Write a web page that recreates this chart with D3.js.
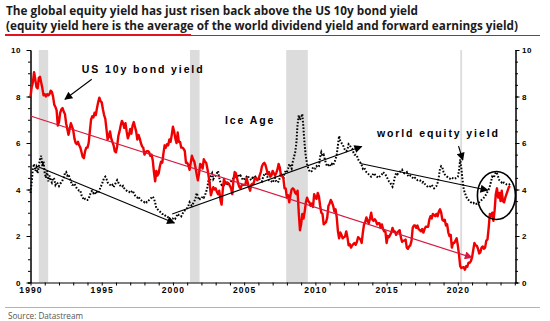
<!DOCTYPE html>
<html lang="en">
<head>
<meta charset="utf-8"/>
<title>Global equity yield vs US 10y bond yield</title>
<script src="https://d3js.org/d3.v7.min.js"></script>
<style>
  body { margin: 0; background: #fff; }
  svg text { font-family: Arial, "Liberation Sans", sans-serif; }
</style>
</head>
<body>
<script>
// monthly series starting Jan 1990
var startYear = 1990;

// US 10y government bond yield, %
var bondYield = [
  8.0, 8.4, 8.6, 9.05, 8.75, 8.4, 8.35, 8.8, 8.85, 8.6, 8.35, 8.05,
  8.1, 8.0, 8.1, 8.05, 8.1, 8.25, 8.2, 8.0, 7.65, 7.55, 7.4, 6.75,
  6.9, 7.3, 7.45, 7.5, 7.35, 7.25, 6.85, 6.6, 6.35, 6.6, 6.85, 6.7,
  6.55, 6.2, 6.0, 5.95, 6.05, 5.9, 5.8, 5.6, 5.4, 5.35, 5.65, 5.8,
  5.8, 6.0, 6.5, 7.0, 7.15, 7.1, 7.3, 7.2, 7.5, 7.75, 7.95, 7.8,
  7.75, 7.45, 7.2, 7.05, 6.6, 6.15, 6.3, 6.5, 6.2, 6.05, 5.9, 5.65,
  5.6, 5.85, 6.3, 6.5, 6.75, 6.95, 6.85, 6.65, 6.85, 6.5, 6.2, 6.35,
  6.6, 6.4, 6.75, 6.9, 6.7, 6.5, 6.15, 6.35, 6.2, 6.0, 5.85, 5.8,
  5.5, 5.6, 5.65, 5.65, 5.6, 5.45, 5.5, 5.25, 4.75, 4.35, 4.8, 4.6,
  4.7, 5.0, 5.2, 5.15, 5.55, 5.9, 5.8, 5.95, 5.9, 6.15, 6.05, 6.35,
  6.7, 6.5, 6.2, 6.0, 6.45, 6.05, 6.05, 5.8, 5.8, 5.75, 5.65, 5.15,
  5.15, 5.05, 4.85, 5.15, 5.45, 5.3, 5.2, 4.95, 4.65, 4.4, 4.7, 5.1,
  5.05, 4.9, 5.3, 5.2, 5.15, 4.9, 4.6, 4.2, 3.75, 3.95, 4.1, 4.0,
  4.05, 3.9, 3.8, 3.95, 3.55, 3.35, 4.0, 4.45, 4.25, 4.3, 4.3, 4.25,
  4.15, 4.05, 3.8, 4.4, 4.75, 4.7, 4.5, 4.25, 4.1, 4.05, 4.2, 4.2,
  4.2, 4.2, 4.5, 4.3, 4.1, 3.95, 4.2, 4.25, 4.25, 4.5, 4.5, 4.4,
  4.45, 4.6, 4.75, 5.0, 5.1, 5.15, 5.05, 4.85, 4.65, 4.75, 4.55, 4.6,
  4.8, 4.7, 4.6, 4.7, 4.85, 5.1, 4.95, 4.6, 4.6, 4.5, 4.05, 4.05,
  3.65, 3.75, 3.45, 3.75, 4.0, 4.05, 4.0, 3.85, 3.8, 3.95, 3.0, 2.25,
  2.5, 2.95, 2.75, 3.05, 3.45, 3.65, 3.5, 3.45, 3.3, 3.4, 3.25, 3.8,
  3.65, 3.6, 3.85, 3.7, 3.3, 3.0, 2.95, 2.5, 2.55, 2.6, 2.8, 3.3,
  3.4, 3.55, 3.45, 3.3, 3.05, 3.15, 2.8, 2.2, 1.9, 2.15, 2.05, 1.9,
  1.95, 1.98, 2.2, 1.95, 1.6, 1.65, 1.5, 1.6, 1.65, 1.7, 1.62, 1.75,
  1.95, 1.9, 1.85, 1.7, 2.15, 2.5, 2.6, 2.8, 2.65, 2.55, 2.75, 3.0,
  2.7, 2.65, 2.72, 2.65, 2.5, 2.55, 2.55, 2.35, 2.5, 2.3, 2.2, 2.2,
  1.7, 2.0, 1.95, 2.05, 2.15, 2.35, 2.2, 2.2, 2.05, 2.15, 2.2, 2.25,
  1.95, 1.75, 1.8, 1.8, 1.85, 1.5, 1.45, 1.55, 1.6, 1.8, 2.35, 2.45,
  2.45, 2.35, 2.45, 2.3, 2.25, 2.2, 2.3, 2.15, 2.3, 2.4, 2.4, 2.4,
  2.7, 2.85, 2.75, 2.95, 2.9, 2.85, 2.95, 2.85, 3.05, 3.15, 3.0, 2.7,
  2.65, 2.7, 2.45, 2.5, 2.15, 2.0, 2.05, 1.5, 1.7, 1.7, 1.8, 1.9,
  1.6, 1.2, 0.7, 0.62, 0.65, 0.66, 0.55, 0.7, 0.68, 0.85, 0.85, 0.92,
  1.08, 1.4, 1.7, 1.6, 1.58, 1.45, 1.25, 1.3, 1.5, 1.55, 1.45, 1.5,
  1.8, 1.85, 2.35, 2.95, 2.85, 3.0, 2.65, 3.1, 3.8, 4.05, 3.65, 3.85,
  3.5, 3.95, 3.5, 3.45, 3.65, 3.8, 3.95, 4.1, 4.15
];

// world equity yield (avg of dividend yield and forward earnings yield), %
var equityYield = [
  3.85, 4.3, 4.9, 5.1, 4.8, 4.95, 4.7, 5.0, 5.3, 5.45, 5.0, 5.2,
  4.7, 4.5, 4.8, 4.35, 4.6, 4.4, 4.3, 4.5, 4.45, 4.2, 4.3, 4.25,
  4.15, 4.25, 4.3, 4.4, 4.5, 4.7, 4.75, 4.6, 4.65, 4.5, 4.35, 4.2,
  4.2, 4.25, 4.15, 4.05, 4.0, 3.95, 3.95, 3.75, 3.65, 3.55, 3.6, 3.55,
  3.55, 3.6, 3.75, 3.9, 3.95, 3.85, 3.9, 3.8, 3.9, 3.85, 3.95, 4.1,
  4.2, 4.35, 4.5, 4.55, 4.45, 4.3, 4.25, 4.2, 4.15, 4.2, 4.1, 4.2,
  4.3, 4.4, 4.3, 4.2, 4.15, 4.1, 4.15, 4.05, 4.0, 3.95, 3.9, 3.9,
  3.85, 3.9, 3.95, 3.85, 3.75, 3.7, 3.65, 3.7, 3.6, 3.55, 3.5, 3.5,
  3.45, 3.5, 3.45, 3.5, 3.55, 3.6, 3.65, 3.7, 3.6, 3.45, 3.2, 3.15,
  3.1, 3.05, 3.0, 2.95, 2.95, 2.9, 2.85, 2.85, 2.8, 2.75, 2.7, 2.75,
  2.75, 2.8, 2.75, 2.85, 2.95, 2.9, 2.9, 2.85, 2.95, 3.05, 3.1, 3.15,
  3.2, 3.3, 3.45, 3.35, 3.3, 3.4, 3.5, 3.6, 3.85, 3.7, 3.55, 3.6,
  3.6, 3.7, 3.65, 3.75, 3.9, 4.1, 4.4, 4.3, 4.6, 4.7, 4.45, 4.55,
  4.6, 4.7, 4.8, 4.5, 4.3, 4.2, 4.25, 4.2, 4.3, 4.2, 4.25, 4.2,
  4.3, 4.35, 4.4, 4.5, 4.55, 4.5, 4.6, 4.65, 4.55, 4.6, 4.5, 4.4,
  4.45, 4.5, 4.55, 4.6, 4.5, 4.45, 4.4, 4.5, 4.45, 4.6, 4.5, 4.45,
  4.4, 4.45, 4.4, 4.35, 4.55, 4.65, 4.7, 4.6, 4.5, 4.4, 4.4, 4.35,
  4.3, 4.4, 4.5, 4.35, 4.3, 4.35, 4.5, 4.7, 4.6, 4.45, 4.7, 4.8,
  4.75, 4.9, 5.1, 5.0, 4.9, 5.2, 5.4, 5.6, 6.0, 6.8, 7.2, 7.0,
  7.1, 7.25, 6.6, 5.9, 5.4, 5.1, 4.9, 4.8, 4.75, 4.8, 4.95, 4.9,
  4.9, 5.0, 4.95, 5.0, 5.4, 5.6, 5.45, 5.5, 5.3, 5.1, 5.0, 5.05,
  5.1, 5.0, 5.1, 5.05, 5.15, 5.3, 5.5, 5.9, 6.3, 6.1, 6.0, 5.95,
  5.8, 5.7, 5.65, 5.7, 5.95, 5.9, 5.8, 5.75, 5.6, 5.5, 5.5, 5.45,
  5.3, 5.2, 5.15, 5.05, 4.9, 4.95, 4.85, 4.75, 4.7, 4.65, 4.6, 4.55,
  4.6, 4.7, 4.65, 4.6, 4.55, 4.5, 4.55, 4.6, 4.65, 4.75, 4.7, 4.65,
  4.55, 4.45, 4.35, 4.3, 4.2, 4.12, 4.3, 4.55, 4.7, 4.65, 4.7, 4.75,
  4.8, 4.85, 4.75, 4.7, 4.72, 4.75, 4.6, 4.55, 4.6, 4.55, 4.5, 4.45,
  4.5, 4.45, 4.4, 4.42, 4.4, 4.35, 4.3, 4.32, 4.25, 4.2, 4.15, 4.1,
  4.1, 4.15, 4.2, 4.12, 4.05, 4.1, 4.15, 4.3, 4.55, 4.9, 5.0, 4.95,
  4.75, 4.65, 4.6, 4.55, 4.5, 4.48, 4.45, 4.5, 4.48, 4.45, 4.48, 4.5,
  4.55, 4.8, 5.3, 4.9, 4.4, 4.0, 3.85, 3.7, 3.6, 3.55, 3.5, 3.45,
  3.42, 3.4, 3.45, 3.4, 3.38, 3.42, 3.45, 3.5, 3.55, 3.6, 3.65, 3.72,
  3.8, 3.9, 4.0, 4.15, 4.35, 4.55, 4.5, 4.6, 4.75, 4.7, 4.55, 4.4,
  4.35, 4.3, 4.35, 4.28, 4.25, 4.22, 4.2, 4.2, 4.25
];

// US recessions (decimal years)
var recessions = [[1990.58, 1991.24], [2001.2, 2001.87], [2007.95, 2009.47], [2020.17, 2020.3]];

var yTicks = [0, 2, 4, 6, 8, 10];
var xLabels = [1990, 1995, 2000, 2005, 2010, 2015, 2020];

// trend arrows: [[year, value], [year, value]]
var bondTrend = [[1990, 7.16], [2021.0, 1.07]];
var equityTrends = [
  [[1990.45, 5.0], [2000.1, 2.56]],
  [[1999.95, 2.95], [2013.25, 5.85]],
  [[2013.15, 5.12], [2022.1, 3.97]]
];

// text labels and pointer arrows
var notes = [
  { text: "US 10y bond yield", at: [1993.6, 9.0], from: [1994.3, 8.74], to: [1992.42, 7.88] },
  { text: "Ice Age", at: [2003.65, 6.8] },
  { text: "world equity yield", at: [2014.32, 6.27], from: [2020.05, 5.87], to: [2020.35, 5.27] }
];
var circleAt = [2022.71, 3.74];

var w = 550, h = 321;
var plotL = 30.5, plotR = 515.5, plotT = 50, plotB = 282.5;

var x = d3.scaleLinear().domain([1990, 2024.05]).range([plotL, plotR]);
var y = d3.scaleLinear().domain([0, 10]).range([plotB, plotT]);

var svg = d3.select("body").append("svg")
  .attr("width", w)
  .attr("height", h);

// arrowheads
var defs = svg.append("defs");
function marker(id, col) {
  defs.append("marker")
    .attr("id", id)
    .attr("viewBox", "0 0 10 10")
    .attr("refX", 9).attr("refY", 5)
    .attr("markerUnits", "userSpaceOnUse")
    .attr("markerWidth", 10).attr("markerHeight", 8)
    .attr("orient", "auto")
    .append("path")
    .attr("d", "M0,0L10,5L0,10z")
    .attr("fill", col);
}
marker("headBlack", "#000");
marker("headRed", "#d7193f");

// title
var title = svg.append("g").attr("font-weight", "bold").attr("fill", "#1b1b1b");
title.append("text")
  .attr("x", 6).attr("y", 14.5)
  .style("font-family", "'Open Sans', sans-serif")
  .style("font-size", "11.5px")
  .attr("textLength", 412).attr("lengthAdjust", "spacingAndGlyphs")
  .text("The global equity yield has just risen back above the US 10y bond yield");
title.append("text")
  .attr("x", 6).attr("y", 30)
  .style("font-family", "'Open Sans', sans-serif")
  .style("font-size", "11.5px")
  .attr("textLength", 512).attr("lengthAdjust", "spacingAndGlyphs")
  .text("(equity yield here is the average of the world dividend yield and forward earnings yield)");

svg.append("line").attr("x1", 5).attr("x2", 540).attr("y1", 35.5).attr("y2", 35.5)
  .attr("stroke", "#e0141e").attr("stroke-width", 1);
svg.append("line").attr("x1", 5).attr("x2", 191).attr("y1", 35).attr("y2", 35)
  .attr("stroke", "#e0141e").attr("stroke-width", 2.2);

// recession shading
svg.selectAll("rect.rec")
  .data(recessions)
  .enter().append("rect")
  .attr("class", "rec")
  .attr("x", function(d) { return x(d[0]); })
  .attr("width", function(d) { return x(d[1]) - x(d[0]); })
  .attr("y", y(10))
  .attr("height", y(0) - y(10))
  .attr("fill", "#dcdcdc");

// axes
function styleAxis(g) {
  g.select(".domain").attr("stroke", "#000").attr("stroke-width", 1);
  g.selectAll(".tick line").attr("stroke", "#000");
  g.selectAll("text")
    .attr("fill", "#000")
    .style("font-size", "8px")
    .style("font-weight", "bold")
    .style("font-family", "Arial, 'Liberation Sans', sans-serif")
    .style("letter-spacing", "0.6px");
}

var minorY = d3.range(0, 10.01, 0.5);

svg.append("g").attr("transform", "translate(" + plotL + ",0)")
  .call(d3.axisLeft(y).tickValues(minorY).tickSize(2.5).tickFormat(""))
  .call(styleAxis);
svg.append("g").attr("transform", "translate(" + plotL + ",0)")
  .call(d3.axisLeft(y).tickValues(yTicks).tickSize(4).tickSizeOuter(0).tickPadding(5.5).tickFormat(d3.format("d")))
  .call(styleAxis);

svg.append("g").attr("transform", "translate(" + plotR + ",0)")
  .call(d3.axisRight(y).tickValues(minorY).tickSize(2.5).tickFormat(""))
  .call(styleAxis);
svg.append("g").attr("transform", "translate(" + plotR + ",0)")
  .call(d3.axisRight(y).tickValues(yTicks).tickSize(4).tickSizeOuter(0).tickPadding(2.5).tickFormat(d3.format("d")))
  .call(styleAxis);

var xAxis = svg.append("g").attr("transform", "translate(0," + plotB + ")")
  .call(d3.axisBottom(x)
    .tickValues(d3.range(1990, 2025))
    .tickSize(3).tickSizeOuter(0).tickPadding(1.5)
    .tickFormat(function(d) { return xLabels.indexOf(d) >= 0 ? d : ""; }))
  .call(styleAxis);
xAxis.selectAll("text").style("font-size", "8.5px").style("letter-spacing", "1.1px");

// series
function monthly(arr) {
  return arr.map(function(v, i) { return [startYear + i / 12, v]; });
}
var line = d3.line()
  .x(function(d) { return x(d[0]); })
  .y(function(d) { return y(d[1]); });

svg.append("path")
  .datum(monthly(equityYield))
  .attr("d", line)
  .attr("fill", "none")
  .attr("stroke", "#000")
  .attr("stroke-width", 2)
  .attr("stroke-dasharray", "1.6,1.7");

svg.append("path")
  .datum(monthly(bondYield))
  .attr("d", line)
  .attr("fill", "none")
  .attr("stroke", "#f00000")
  .attr("stroke-width", 2.4)
  .attr("stroke-linejoin", "round");

// trend arrows
svg.append("path")
  .datum(bondTrend)
  .attr("d", line)
  .attr("stroke", "#d7193f")
  .attr("stroke-width", 1.2)
  .attr("marker-end", "url(#headRed)");

svg.selectAll("path.trend")
  .data(equityTrends)
  .enter().append("path")
  .attr("class", "trend")
  .attr("d", line)
  .attr("stroke", "#000")
  .attr("stroke-width", 1.1)
  .attr("marker-end", "url(#headBlack)");

// annotations
notes.forEach(function(n) {
  svg.append("text")
    .attr("x", x(n.at[0])).attr("y", y(n.at[1]))
    .style("font-size", "10.5px")
    .style("font-weight", "bold")
    .style("letter-spacing", "1.9px")
    .attr("fill", "#000")
    .text(n.text);
  if (n.from) {
    svg.append("path")
      .datum([n.from, n.to])
      .attr("d", line)
      .attr("stroke", "#000")
      .attr("stroke-width", 1.1)
      .attr("marker-end", "url(#headBlack)");
  }
});

svg.append("ellipse")
  .attr("cx", x(circleAt[0])).attr("cy", y(circleAt[1]))
  .attr("rx", 19).attr("ry", 24)
  .attr("fill", "none")
  .attr("stroke", "#000")
  .attr("stroke-width", 1.6);

// footer
svg.append("line").attr("x1", 5).attr("x2", 540).attr("y1", 307.5).attr("y2", 307.5)
  .attr("stroke", "#b4b4b4").attr("stroke-width", 1);
svg.append("text")
  .attr("x", 8).attr("y", 318.5)
  .style("font-family", "'Open Sans', sans-serif")
  .style("font-size", "8.5px")
  .attr("fill", "#555")
  .attr("textLength", 75).attr("lengthAdjust", "spacingAndGlyphs")
  .text("Source: Datastream");
</script>
</body>
</html>
